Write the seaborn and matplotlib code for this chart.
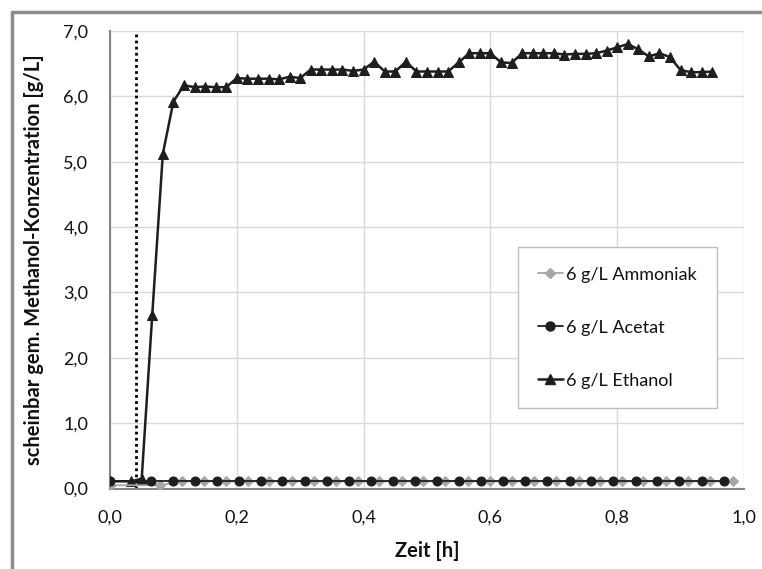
import numpy as np
import pandas as pd
import matplotlib
matplotlib.use("Agg")
import matplotlib.pyplot as plt
import seaborn as sns
from matplotlib.ticker import MultipleLocator, FuncFormatter
from matplotlib.lines import Line2D

# ---------------- data ----------------
ethanol_minutes = [0, 2, 3, 4, 5, 6, 7, 8, 9, 10, 11, 12, 13, 14, 15, 16, 17, 18,
                   19, 20, 21, 22, 23, 24, 25, 26, 27, 28, 29, 30, 31, 32, 33, 34,
                   35, 36, 37, 38, 39, 40, 41, 42, 43, 44, 45, 46, 47, 48, 49, 50,
                   51, 52, 53, 54, 55, 56, 57]
ethanol_vals = [0.11, 0.11, 0.15, 2.66, 5.12, 5.92, 6.17, 6.14, 6.15, 6.14, 6.14,
                6.28, 6.27, 6.27, 6.27, 6.26, 6.30, 6.28, 6.41, 6.41, 6.41, 6.41,
                6.39, 6.41, 6.53, 6.38, 6.38, 6.53, 6.38, 6.38, 6.38, 6.38, 6.52,
                6.66, 6.66, 6.66, 6.52, 6.51, 6.66, 6.66, 6.66, 6.66, 6.64, 6.65,
                6.65, 6.66, 6.70, 6.75, 6.80, 6.72, 6.61, 6.66, 6.60, 6.40, 6.37,
                6.37, 6.38]

acetat_t = [0.0, 0.065, 0.100, 0.134, 0.168, 0.204, 0.238, 0.272, 0.308, 0.342,
            0.377, 0.412, 0.447, 0.481, 0.516, 0.551, 0.585, 0.620, 0.655, 0.690,
            0.725, 0.759, 0.794, 0.829, 0.863, 0.898, 0.933, 0.968]
acetat_vals = [0.11] * len(acetat_t)

ammoniak_t = [0.0, 0.079, 0.113, 0.148, 0.183, 0.218, 0.251, 0.287, 0.321, 0.356,
              0.391, 0.425, 0.461, 0.494, 0.528, 0.564, 0.599, 0.634, 0.669, 0.703,
              0.739, 0.773, 0.807, 0.841, 0.877, 0.911, 0.946, 0.982]
ammoniak_vals = [0.05, 0.05, 0.11, 0.11, 0.11, 0.11, 0.11, 0.11, 0.11, 0.11, 0.11,
                 0.11, 0.11, 0.11, 0.11, 0.11, 0.11, 0.11, 0.11, 0.11, 0.11, 0.11,
                 0.11, 0.11, 0.11, 0.11, 0.11, 0.11]

marker_line_x = 0.041

labels = ["6 g/L Ammoniak", "6 g/L Acetat", "6 g/L Ethanol"]
x_label = "Zeit [h]"
y_label = "scheinbar gem. Methanol-Konzentration [g/L]"

# ---------------- style ----------------
sns.set_style("white")
plt.rcParams["font.family"] = ["Lato", "DejaVu Sans"]

W, H = 762, 569
fig = plt.figure(figsize=(W / 100, H / 100), dpi=100)
ax_l, ax_r, ax_b, ax_t = 110, 744, 488.5, 31
ax = fig.add_axes([ax_l / W, 1 - ax_b / H, (ax_r - ax_l) / W, (ax_b - ax_t) / H])

ethanol_t = [m / 60 for m in ethanol_minutes]
df_eth = pd.DataFrame({"t": ethanol_t, "c": ethanol_vals})
df_ace = pd.DataFrame({"t": acetat_t, "c": acetat_vals})
df_amm = pd.DataFrame({"t": ammoniak_t, "c": ammoniak_vals})

ax.axvline(marker_line_x, color="black", linestyle=(0, (1, 1.2)), linewidth=2.0, zorder=2)

sns.lineplot(data=df_eth, x="t", y="c", ax=ax, color="#1e1e1e", linewidth=1.8,
             marker="^", markersize=7.5, markeredgecolor="#1e1e1e",
             markerfacecolor="#1e1e1e", sort=False, estimator=None, zorder=3)
sns.lineplot(data=df_amm, x="t", y="c", ax=ax, color="#a6a6a6", linewidth=1.3,
             marker="D", markersize=5.5, markeredgecolor="#a6a6a6",
             markerfacecolor="#a6a6a6", sort=False, estimator=None, zorder=4)
sns.lineplot(data=df_ace, x="t", y="c", ax=ax, color="#1e1e1e", linewidth=1.3,
             marker="o", markersize=6.5, markeredgecolor="#1e1e1e",
             markerfacecolor="#1e1e1e", sort=False, estimator=None, zorder=5)

ax.set_xlim(0, 1.0)
ax.set_ylim(0, 7.0)
ax.xaxis.set_major_locator(MultipleLocator(0.2))
ax.xaxis.set_minor_locator(MultipleLocator(0.04))
ax.yaxis.set_major_locator(MultipleLocator(1.0))
ax.yaxis.set_minor_locator(MultipleLocator(0.2))
fmt = FuncFormatter(lambda v, p: f"{v:.1f}".replace(".", ","))
ax.xaxis.set_major_formatter(fmt)
ax.yaxis.set_major_formatter(fmt)

ax.grid(True, which="major", color="#d9d9d9", linewidth=1.0, zorder=0)
ax.set_axisbelow(True)
for s in ["top", "right"]:
    ax.spines[s].set_visible(False)
for s in ["left", "bottom"]:
    ax.spines[s].set_color("#868686")
    ax.spines[s].set_linewidth(1.5)

ax.tick_params(axis="y", which="major", direction="inout", length=10, width=1.2,
               color="#868686", labelsize=13, pad=10.5, labelcolor="#111111")
ax.tick_params(axis="y", which="minor", direction="in", length=4.5, width=1.0,
               color="#868686")
ax.tick_params(axis="x", which="major", direction="inout", length=12, width=1.2,
               color="#868686", labelsize=13, pad=9, labelcolor="#111111")
ax.tick_params(axis="x", which="minor", direction="in", length=5, width=1.0,
               color="#868686")

ax.set_xlabel(x_label, fontsize=14.5, fontweight="bold", color="#111111")
ax.set_ylabel(y_label, fontsize=14.5, fontweight="bold", color="#111111")
ax.yaxis.set_label_coords((44 - ax_l) / (ax_r - ax_l), 0.5)
ax.xaxis.set_label_coords(0.5, (ax_b - 541) / (ax_b - ax_t))

handles = [
    Line2D([], [], color="#a6a6a6", linewidth=1.3, marker="D", markersize=5.5,
           markerfacecolor="#a6a6a6", markeredgecolor="#a6a6a6"),
    Line2D([], [], color="#1e1e1e", linewidth=1.3, marker="o", markersize=6.5,
           markerfacecolor="#1e1e1e", markeredgecolor="#1e1e1e"),
    Line2D([], [], color="#1e1e1e", linewidth=1.8, marker="^", markersize=7.5,
           markerfacecolor="#1e1e1e", markeredgecolor="#1e1e1e"),
]
leg = ax.legend(handles, labels, loc="upper left", bbox_to_anchor=(0.643, 0.5285),
                borderaxespad=0, frameon=True, fancybox=False, fontsize=13,
                labelspacing=2.05, borderpad=1.1, handlelength=1.4,
                handletextpad=0.2, framealpha=1.0)
leg.get_frame().set_edgecolor("#bfbfbf")
leg.get_frame().set_linewidth(1.0)
for t in leg.get_texts():
    t.set_color("#111111")

# gray image frame on the left and top
fig.add_artist(Line2D([12 / W, 12 / W], [0, 1 - 12 / H], transform=fig.transFigure,
                      color="#8c8c8c", linewidth=2.5))
fig.add_artist(Line2D([12 / W, 1], [1 - 12 / H, 1 - 12 / H], transform=fig.transFigure,
                      color="#8c8c8c", linewidth=2.5))

fig.savefig("out.png", dpi=100)
